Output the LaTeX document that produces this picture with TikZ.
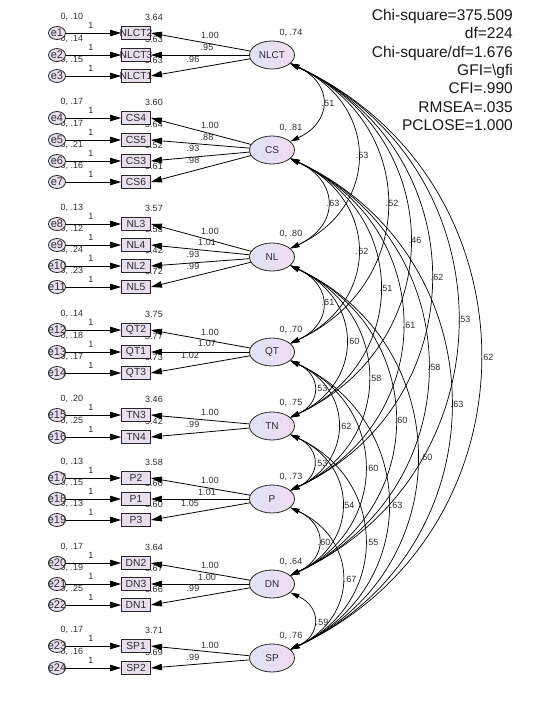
\documentclass[tikz,border=0pt]{standalone}
\usepackage{fontspec}
\setmainfont{Liberation Sans}
\usetikzlibrary{shapes.geometric,arrows.meta}
\pgfdeclarelayer{bg}
\pgfsetlayers{bg,main}
\definecolor{latL}{RGB}{224,226,244}
\definecolor{latR}{RGB}{240,220,242}
\definecolor{boxfill}{RGB}{232,222,240}
\definecolor{txt}{RGB}{45,45,45}
\newcommand\myrow[6]{%
  \begin{pgfonlayer}{bg}
    \node[sm] (v#1) at (72,#4-16) {0, #5};
    \node[sm] (i#1) at (154,#4-16) {#6};
  \end{pgfonlayer}
  \node[err] (e#1) at (57,#4) {\makebox[0pt]{e#1}};
  \node[obs] (b#1) at (136,#4) {\makebox[0pt]{#3}};
  \draw[arr] (e#1) -- (b#1);
  \node[sm] (one#1) at (91,#4-8) {1};
}
\tikzset{
  lat/.style={ellipse, draw=black!85, line width=0.8pt, minimum width=45pt, minimum height=28pt, inner sep=0pt, left color=latL, right color=latR, font=\fontsize{10}{12}\selectfont, text=txt},
  obs/.style={rectangle, draw=black!85, line width=0.9pt, minimum width=29pt, minimum height=13pt, inner sep=0pt, fill=boxfill, font=\fontsize{10.3}{12}\selectfont, text=txt},
  err/.style={ellipse, draw=black!85, line width=0.8pt, minimum width=17pt, minimum height=13pt, inner sep=0pt, left color=latL, right color=latR, font=\fontsize{11}{12}\selectfont, text=txt},
  sm/.style={font=\fontsize{9}{10}\selectfont, text=txt, inner sep=0pt},
  fitline/.style={font=\fontsize{15.5}{18}\selectfont, anchor=base east, inner sep=0pt, text=black!90},
  arr/.style={-{Triangle[length=11pt,width=6.5pt]}, line width=0.8pt},
  cov/.style={{Triangle[length=9pt,width=5pt]}-{Triangle[length=9pt,width=5pt]}, line width=0.7pt, out=-25, in=25},
  d1/.style={cov, looseness=1.55},
  d2/.style={cov, looseness=1.37},
  d3/.style={cov, looseness=1.30},
  d4/.style={cov, looseness=1.27},
  d5/.style={cov, looseness=1.24},
  d6/.style={cov, looseness=1.23},
  d7/.style={cov, looseness=1.22},
}
\begin{document}
\begin{tikzpicture}[x=1pt,y=-1pt]
\useasboundingbox (0,0) rectangle (544,704);
\begin{pgfonlayer}{bg}
\fill[white] (0,0) rectangle (544,704);
\end{pgfonlayer}

% fit statistics
\node[fitline] (f1) at (513,20.5) {Chi-square=375.509};
\node[fitline] (f2) at (513,38.8) {df=224};
\node[fitline] (f3) at (513,57.1) {Chi-square/df=1.676};
\node[fitline] (f4) at (513,75.4) {GFI=\textbackslash gfi};
\node[fitline] (f5) at (513,93.7) {CFI=.990};
\node[fitline] (f6) at (513,112) {RMSEA=.035};
\node[fitline] (f7) at (513,130.3) {PCLOSE=1.000};

% indicator rows
\myrow{1}{b1}{NLCT2}{33}{.10}{3.64}
\myrow{2}{b2}{NLCT3}{55}{.14}{3.63}
\myrow{3}{b3}{NLCT1}{76}{.15}{3.63}
\myrow{4}{b4}{CS4}{118}{.17}{3.60}
\myrow{5}{b5}{CS5}{140}{.17}{3.64}
\myrow{6}{b6}{CS3}{161}{.21}{3.52}
\myrow{7}{b7}{CS6}{182}{.16}{3.61}
\myrow{8}{b8}{NL3}{224}{.13}{3.57}
\myrow{9}{b9}{NL4}{245}{.12}{3.53}
\myrow{10}{b10}{NL2}{266}{.24}{3.42}
\myrow{11}{b11}{NL5}{287}{.23}{3.72}
\myrow{12}{b12}{QT2}{330}{.14}{3.75}
\myrow{13}{b13}{QT1}{352}{.18}{3.77}
\myrow{14}{b14}{QT3}{373}{.17}{3.73}
\myrow{15}{b15}{TN3}{415}{.20}{3.46}
\myrow{16}{b16}{TN4}{437}{.25}{3.42}
\myrow{17}{b17}{P2}{478}{.13}{3.58}
\myrow{18}{b18}{P1}{499}{.15}{3.60}
\myrow{19}{b19}{P3}{520}{.13}{3.60}
\myrow{20}{b20}{DN2}{563}{.17}{3.64}
\myrow{21}{b21}{DN3}{584}{.19}{3.67}
\myrow{22}{b22}{DN1}{605}{.25}{3.66}
\myrow{23}{b23}{SP1}{646}{.17}{3.71}
\myrow{24}{b24}{SP2}{668}{.16}{3.69}

% latent variables
\node[lat] (NLCT) at (272,55) {NLCT};
\node[lat] (CS) at (272,150) {CS};
\node[lat] (NL) at (272,257) {NL};
\node[lat] (QT) at (272,352) {QT};
\node[lat] (TN) at (272,426) {TN};
\node[lat] (P) at (272,499) {P};
\node[lat] (DN) at (272,584) {DN};
\node[lat] (SP) at (272,658) {SP};

\node[sm] (vNLCT) at (291,33) {0, .74};
\node[sm] (vCS) at (291,128) {0, .81};
\node[sm] (vNL) at (291,234) {0, .80};
\node[sm] (vQT) at (291,330) {0, .70};
\node[sm] (vTN) at (291,403) {0, .75};
\node[sm] (vP) at (291,477) {0, .73};
\node[sm] (vDN) at (291,562) {0, .64};
\node[sm] (vSP) at (291,636) {0, .76};

% loadings
\foreach \l/\b in {NLCT/1,NLCT/2,NLCT/3,CS/4,CS/5,CS/6,CS/7,NL/8,NL/9,NL/10,NL/11,QT/12,QT/13,QT/14,TN/15,TN/16,P/17,P/18,P/19,DN/20,DN/21,DN/22,SP/23,SP/24}
  \draw[arr] (\l) -- (b\b.east);

\node[sm] (w1) at (210,35) {1.00};
\node[sm] (w2) at (207,47) {.95};
\node[sm] (w3) at (193,59) {.96};
\node[sm] (w4) at (210,125) {1.00};
\node[sm] (w5) at (207,137) {.88};
\node[sm] (w6) at (193,148) {.93};
\node[sm] (w7) at (193,160) {.98};
\node[sm] (w8) at (210,231) {1.00};
\node[sm] (w9) at (207,242) {1.01};
\node[sm] (w10) at (193,254) {.93};
\node[sm] (w11) at (193,266) {.99};
\node[sm] (w12) at (210,332) {1.00};
\node[sm] (w13) at (207,343) {1.07};
\node[sm] (w14) at (190,355) {1.02};
\node[sm] (w15) at (210,412) {1.00};
\node[sm] (w16) at (193,424) {.99};
\node[sm] (w17) at (210,480) {1.00};
\node[sm] (w18) at (207,492) {1.01};
\node[sm] (w19) at (190,503) {1.05};
\node[sm] (w20) at (210,565) {1.00};
\node[sm] (w21) at (207,577) {1.00};
\node[sm] (w22) at (193,588) {.99};
\node[sm] (w23) at (210,645) {1.00};
\node[sm] (w24) at (193,657) {.99};

% covariances
\draw[d1] (NLCT) to (CS);
\draw[d2] (NLCT) to (NL);
\draw[d3] (NLCT) to (QT);
\draw[d4] (NLCT) to (TN);
\draw[d5] (NLCT) to (P);
\draw[d6] (NLCT) to (DN);
\draw[d7] (NLCT) to (SP);
\draw[d1] (CS) to (NL);
\draw[d2] (CS) to (QT);
\draw[d3] (CS) to (TN);
\draw[d4] (CS) to (P);
\draw[d5] (CS) to (DN);
\draw[d6] (CS) to (SP);
\draw[d1] (NL) to (QT);
\draw[d2] (NL) to (TN);
\draw[d3] (NL) to (P);
\draw[d4] (NL) to (DN);
\draw[d5] (NL) to (SP);
\draw[d1] (QT) to (TN);
\draw[d2] (QT) to (P);
\draw[d3] (QT) to (DN);
\draw[d4] (QT) to (SP);
\draw[d1] (TN) to (P);
\draw[d2] (TN) to (DN);
\draw[d3] (TN) to (SP);
\draw[d1] (P) to (DN);
\draw[d2] (P) to (SP);
\draw[d1] (DN) to (SP);

\node[sm] (c12) at (328,103) {.51};
\node[sm] (c13) at (362,155) {.53};
\node[sm] (c14) at (392,203) {.52};
\node[sm] (c15) at (415,240) {.46};
\node[sm] (c16) at (437,277) {.62};
\node[sm] (c17) at (464,319) {.53};
\node[sm] (c18) at (487,357) {.62};
\node[sm] (c23) at (333,203) {.63};
\node[sm] (c24) at (362,251) {.62};
\node[sm] (c25) at (386,288) {.51};
\node[sm] (c26) at (409,325) {.61};
\node[sm] (c27) at (434,367) {.58};
\node[sm] (c28) at (457,404) {.63};
\node[sm] (c34) at (328,302) {.61};
\node[sm] (c35) at (353,341) {.60};
\node[sm] (c36) at (375,378) {.58};
\node[sm] (c37) at (401,420) {.60};
\node[sm] (c38) at (426,457) {.60};
\node[sm] (c45) at (321,388) {.53};
\node[sm] (c46) at (345,426) {.62};
\node[sm] (c47) at (372,468) {.60};
\node[sm] (c48) at (396,505) {.63};
\node[sm] (c56) at (321,463) {.53};
\node[sm] (c57) at (348,505) {.54};
\node[sm] (c58) at (372,542) {.55};
\node[sm] (c67) at (324,542) {.60};
\node[sm] (c68) at (350,579) {.67};
\node[sm] (c78) at (322,622) {.59};
\end{tikzpicture}
\end{document}
